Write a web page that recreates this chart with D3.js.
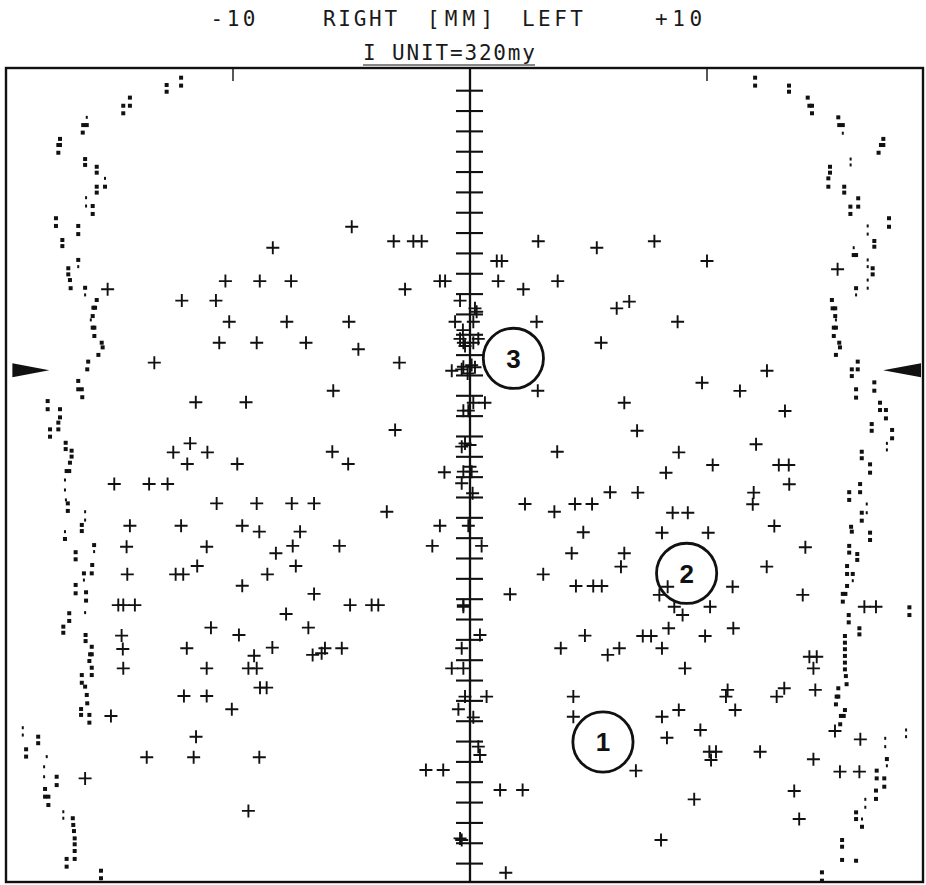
<!DOCTYPE html>
<html lang="en">
<head>
<meta charset="UTF-8" />
<title>Right / Left plot</title>
<script src="https://d3js.org/d3.v7.min.js"></script>
<style>
  body { margin: 0; background: #fff; }
  #chart svg { display: block; }
</style>
</head>
<body>
<div id="chart"></div>
<script>
// header text, centre of each word in mm
const headerLabels = ["-10", "RIGHT", "[MM]", "LEFT", "+10"];
const headerX = [-10, -4.64, -0.42, 3.48, 8.8];
const headerWidths = [45, 74, 66, 61, 47];
const unitLabel = "I UNIT=320my";
const rulerTicks = [-10, 10];
const axisTicks = d3.range(0, 39);
const pointerY = 13.75;

// circled numbers
const circleLabels = ["1", "2", "3"];
const circleX = [5.61, 9.14, 1.83];
const circleY = [32.02, 23.73, 13.16];

// crosses [mm, unit]
const crossesLeft = [
  [-8.32,7.72],[-10.32,9.36],[-8.87,9.36],[-7.55,9.36],[-15.29,9.76],[-12.16,10.32],[-10.72,10.32],[-10.16,11.36],[-7.73,11.36],
  [-4.99,6.69],[-3.22,7.40],[-2.39,7.40],[-2.04,7.40],[-2.74,9.76],[-1.27,9.36],[-1.05,9.36],[-5.11,11.36],
  [-10.58,12.39],[-9.00,12.39],[-6.92,12.39],[-13.32,13.37],[-11.57,15.32],[-9.45,15.32],[-11.81,17.34],[-12.52,17.78],[-11.08,17.78],[-11.93,18.35],[-9.82,18.35],
  [-15.01,19.34],[-13.54,19.34],[-12.76,19.34],[-10.69,20.29],[-9.00,20.29],[-7.52,20.29],[-6.58,20.29],
  [-14.35,21.39],[-12.19,21.39],[-9.61,21.39],[-8.89,21.68],[-7.17,21.68],[-14.49,22.42],[-11.11,22.42],[-7.48,22.38],[-8.19,22.74],
  [-11.51,23.37],[-7.35,23.37],[-14.46,23.78],[-12.42,23.78],[-12.10,23.78],[-8.55,23.78],[-9.61,24.34],[-6.58,24.74],
  [-14.84,25.29],[-14.63,25.29],[-14.14,25.29],
  [-4.71,12.71],[-2.98,13.37],[-5.77,14.75],[-3.16,16.68],[-5.81,17.75],[-5.14,18.35],[-1.08,18.76],[-3.51,20.70],[-1.27,21.39],[-5.51,22.38],[-1.59,22.38],
  [-5.06,25.29],[-4.15,25.29],[-3.87,25.29],
  [-7.76,25.73],[-10.93,26.40],[-9.75,26.76],[-6.82,26.40],[-14.70,26.79],[-14.65,27.45],[-11.95,27.41],[-9.11,27.78],[-8.34,27.38],[-6.64,27.74],[-6.26,27.66],[-6.12,27.41],[-5.41,27.41],
  [-14.63,28.40],[-11.11,28.40],[-9.35,28.40],[-9.00,28.40],[-8.86,29.35],[-8.58,29.35],[-12.07,29.76],[-11.11,29.76],[-10.05,30.41],[-15.15,30.74],
  [-11.56,31.76],[-13.64,32.77],[-11.66,32.77],[-8.89,32.77],[-16.24,33.81],[-9.35,35.41],[-1.86,33.40],[-1.13,33.40]
];

const crossesAxis = [
  [-0.42,10.32],[0.21,10.70],[0.28,10.87],[-0.63,11.36],[0.14,11.36],[-0.30,11.77],
  [-0.28,12.39],[0.14,12.39],[-0.42,12.20],[0.35,12.20],[-0.21,12.55],
  [-0.77,13.77],[-0.28,13.57],[0.07,13.49],[-0.35,13.70],[0.21,13.60],[-0.10,13.90],
  [0.14,15.34],[-0.28,15.73],[-0.07,15.73],
  [-0.35,17.50],[-0.21,17.34],[0,17.42],
  [-0.28,18.73],[0,18.49],[0.07,18.73],[-0.35,19.30],[0.11,19.79],[-0.07,21.39],
  [-0.28,25.29],[-0.28,25.37],[-0.35,27.41],[0.42,26.76],[-0.77,28.40],[-0.28,28.40],[-0.21,29.79],[0.70,29.79],
  [-0.49,30.41],[0.14,30.81],[0.35,32.25],[0.42,32.66],[-0.42,36.76],[-0.35,36.84]
];

const crossesRight = [
  [2.88,7.40],[5.35,7.72],[1.13,8.37],[1.34,8.37],[1.19,9.36],[2.25,9.76],[3.70,9.36],[6.19,10.70],[6.72,10.37],[2.81,11.36],[7.78,7.40],[10.00,8.37],[8.76,11.36],[15.51,8.78],
  [5.53,12.39],[2.86,14.75],[0.63,15.34],[3.68,17.75],[5.91,19.74],[2.32,20.32],[3.56,20.70],[4.43,20.32],[5.15,20.32],[4.78,21.71],[0.49,22.38],[4.29,22.74],[3.09,23.78],[4.47,24.35],[5.20,24.35],[5.56,24.35],[1.69,24.76],
  [12.53,13.77],[9.79,14.36],[11.39,14.76],[6.51,15.34],[13.29,15.75],[7.05,16.72],[12.07,17.38],[8.81,17.78],[10.24,18.40],[13.03,18.40],[13.45,18.40],[8.27,18.78],[13.47,19.35],[7.08,19.76],[11.97,19.76],[11.93,20.33],
  [8.55,20.75],[9.19,20.75],[12.84,21.40],[8.10,21.73],[10.05,21.73],[14.15,22.45],[6.51,22.74],[6.37,23.40],[12.52,23.40],[8.34,24.39],[7.99,24.79],[11.08,24.39],[14.04,24.79],[8.62,25.37],[10.13,25.37],[16.64,25.37],[17.13,25.37],
  [8.97,25.78],[8.38,26.43],[7.29,26.81],[7.64,26.81],[9.92,26.81],[11.11,26.43],[6.30,27.41],[5.81,27.74],[8.10,27.41],[9.07,28.40],[10.87,29.46],[10.80,29.79],[11.19,30.45],[8.81,30.45],[8.10,30.78],[8.31,31.81],[9.72,31.43],
  [10.10,32.50],[10.38,32.50],[10.17,32.91],[7.00,33.43],[12.24,32.50],[9.46,34.84],[8.06,36.84],
  [13.26,29.38],[12.94,29.79],[14.57,29.46],[14.32,27.83],[14.63,27.83],[14.49,28.40],[15.40,31.48],[16.47,31.89],[14.49,32.87],[15.61,33.48],[16.43,33.48],[13.68,34.43],[13.89,35.81],
  [4.85,26.79],[3.83,27.41],[4.36,29.79],[4.36,30.78],[1.27,34.38],[2.22,34.38],[1.51,38.45]
];

// printed edge dots [mm, unit, faint]
const edgeLeft = [
  [-12.19,-0.64],[-12.19,-0.25],[-12.80,-0.28],[-12.80,0.05],[-14.35,0.34],[-14.35,0.74],[-14.63,0.74],[-14.63,1.11],
  [-16.17,1.31,1],[-16.32,1.69],[-16.17,1.69],[-16.34,2.06],[-17.30,2.37],[-17.30,2.67],[-17.37,2.67],[-17.37,3.05],
  [-16.24,3.36],[-16.24,3.65],[-15.75,3.74],[-15.75,4.03],[-15.40,4.31,1],[-15.40,4.72],[-15.75,4.72],[-15.75,5.01],
  [-16.20,5.26,1],[-16.20,5.67,1],[-15.92,5.67],[-15.92,6.06],[-17.47,6.27],[-17.47,6.65],[-16.53,6.65],[-16.53,7.05],
  [-17.20,7.34],[-17.20,7.64],[-16.53,8.32],[-16.53,8.65,1],[-16.95,8.73],[-16.95,9.03],[-16.88,9.31],[-16.85,9.71],
  [-16.24,9.69],[-16.24,10.04,1],[-15.75,10.29],[-15.82,10.67],[-15.89,10.67],[-15.92,11.08],[-16.00,11.27,1],[-15.92,11.65],[-15.85,11.65],[-15.85,12.06],
  [-15.54,12.39],[-15.50,12.62],[-15.68,12.99],[-16.11,13.32],[-16.15,13.70],[-16.53,14.27],[-16.53,14.68],[-16.38,14.68],[-16.36,15.07],
  [-17.82,15.26],[-17.82,15.66],[-17.30,15.66],[-17.30,16.06],[-17.37,16.32],[-17.37,16.65],[-17.72,16.65],[-17.72,17.01],
  [-17.06,17.31],[-17.06,17.62],[-16.81,17.70],[-16.81,17.99],[-16.88,18.29],[-17.02,18.70],[-16.91,18.70],
  [-17.09,19.14,1],[-17.09,19.63,1],[-17.05,20.12,1],[-16.97,20.29],[-16.97,20.66],[-16.24,20.70,1],[-16.24,21.11,1],[-16.38,21.35],[-16.38,21.65],
  [-17.09,21.68,1],[-17.09,22.04],[-15.86,22.34],[-15.86,22.66,1],[-16.64,22.69],[-16.64,23.04],[-15.94,23.32],[-15.96,23.73],[-16.29,23.73],[-16.29,24.06,1],
  [-16.64,24.30],[-16.64,24.71],[-16.20,24.66],[-16.20,25.07],[-16.24,25.66,1],[-16.91,25.69],[-16.91,26.07],[-17.16,26.35],[-17.16,26.65],
  [-16.22,26.76],[-16.22,27.06],[-15.96,27.34],[-16.03,27.71],[-15.96,27.71],[-16.06,28.04],[-15.96,28.37],[-15.96,28.73],
  [-16.38,28.73],[-16.38,29.11],[-16.24,29.30],[-16.17,29.71],[-16.15,30.12],[-16.41,30.40],[-16.41,30.69],[-16.06,30.69],[-16.06,31.07],
  [-18.87,31.32,1],[-18.87,31.68,1],[-18.22,31.76],[-18.22,32.08],[-18.73,32.38],[-18.73,32.74],[-17.86,32.74,1],[-17.97,33.24,1],[-17.97,33.73,1],
  [-17.44,33.73],[-17.44,34.14],[-17.93,34.33],[-17.93,34.71],[-17.79,34.71],[-17.79,35.12],[-17.16,35.45,1],[-17.16,35.77,1],
  [-16.76,35.77],[-16.74,36.10],[-16.71,36.40],[-16.68,36.76],[-16.68,37.05],[-16.68,37.38],[-16.68,37.77],[-17.02,37.77],[-17.02,38.15],[-15.57,38.35],[-15.57,38.72]
];

const edgeRight = [
  [12.03,-0.64],[12.03,-0.25],[13.46,-0.25],[13.46,0.05],[14.25,0.34],[14.32,0.74],[14.43,0.74],[14.43,1.11],
  [15.54,1.31],[15.58,1.69],[15.73,1.69],[15.73,2.09,1],[17.44,2.37],[17.34,2.67],[17.44,2.67],[17.24,3.05],
  [16.06,3.36,1],[16.06,3.65,1],[15.19,3.74],[15.19,4.03],[15.12,4.31],[15.12,4.72],[15.79,4.72],[15.79,5.01],
  [16.38,5.29],[16.38,5.70],[16.05,5.70],[16.05,6.06],[17.68,6.27],[17.68,6.69],[16.78,6.65,1],[16.78,7.05,1],
  [17.06,7.39],[17.06,7.67],[16.19,7.72,1],[16.19,8.08],[16.29,8.08],[16.78,8.32,1],[16.78,8.65,1],[16.99,8.73],[16.99,9.03],
  [16.78,9.31,1],[16.78,9.71,1],[16.29,9.71],[16.29,10.04,1],
  [15.27,10.29],[15.30,10.70],[15.41,10.70],[15.41,11.08],[15.44,11.27,1],[15.35,11.65],[15.44,11.65],[15.35,12.06],
  [15.58,12.39],[15.61,12.62],[15.44,12.99],[16.36,13.32],[16.36,13.70],[16.11,13.70],[16.11,14.03],
  [17.06,14.34],[17.06,14.75],[16.29,14.68],[16.29,15.09],[17.30,15.34],[17.30,15.70],[17.55,15.70],[17.55,16.11],
  [16.95,16.39],[16.95,16.72],[17.81,16.68],[17.81,17.09],[17.59,17.34,1],[17.59,17.66,1],[16.53,17.75],[16.53,18.07],
  [16.88,18.37],[16.88,18.78],[16.46,19.34],[16.46,19.74],[16.00,19.74],[16.00,20.12],[16.74,20.32,1],[16.74,20.75,1],
  [16.53,20.75],[16.53,21.14],[16.08,21.44],[16.11,21.68],[16.88,21.73],[16.88,22.09],[16.00,22.38],[16.00,22.71],
  [16.34,22.78],[16.34,23.07],[15.91,23.37],[15.91,23.76],[16.15,23.76],[16.15,24.09,1],[15.91,24.35],[15.84,24.74],[15.73,24.74],[15.73,25.12],
  [15.98,25.78],[15.98,26.14],[16.43,26.43],[16.43,26.73],[15.82,26.81],[15.82,27.14],[15.82,27.46],[15.82,27.79],[15.82,28.12],[15.82,28.45],
  [15.86,28.78],[15.89,29.18],[15.54,29.38],[15.47,29.79],[15.54,29.79],[15.44,30.17],[15.82,30.45],[15.77,30.74],[15.65,30.74],[15.62,31.15],
  [18.54,25.40],[18.54,25.78],[18.40,31.43,1],[18.40,31.76,1],[17.52,31.84,1],[17.52,32.25,1],[17.59,32.86],[17.59,33.19,1],
  [17.16,33.43],[17.16,33.81],[17.48,33.81],[17.48,34.22],[17.13,34.41],[17.13,34.82],[16.68,34.84,1],[16.68,35.23,1],
  [16.29,35.48],[16.29,35.81],[16.54,35.81,1],[16.54,36.19],[15.70,36.84],[15.70,37.17],[15.70,37.82],[16.29,37.86],[14.85,38.43],[14.85,38.84]
];

const W = 926, H = 885;
const frame = { left: 6, top: 68, right: 923, bottom: 882 };
const ink = "#111";

const x = d3.scaleLinear().domain([-10, 10]).range([233, 707]);
const y = d3.scaleLinear().domain([0, 38]).range([90.7, 863.6]);

const svg = d3.select("#chart").append("svg")
  .attr("width", W).attr("height", H)
  .attr("viewBox", [0, 0, W, H]);

svg.append("rect").attr("width", W).attr("height", H).attr("fill", "#fff");

// frame
svg.append("rect")
  .attr("x", frame.left).attr("y", frame.top)
  .attr("width", frame.right - frame.left).attr("height", frame.bottom - frame.top)
  .attr("fill", "none").attr("stroke", ink).attr("stroke-width", 2.4);

// -10 / +10 marks under the top edge
svg.selectAll(".ruler").data(rulerTicks).join("line")
  .attr("x1", d => x(d)).attr("x2", d => x(d))
  .attr("y1", frame.top).attr("y2", frame.top + 13)
  .attr("stroke", ink).attr("stroke-width", 1.4);

// centre axis with unit ticks
svg.append("line")
  .attr("x1", x(0)).attr("x2", x(0))
  .attr("y1", frame.top).attr("y2", frame.bottom)
  .attr("stroke", ink).attr("stroke-width", 2.3);

svg.selectAll(".tick").data(axisTicks).join("line")
  .attr("x1", x(0) - 14).attr("x2", x(0) + 13)
  .attr("y1", d => y(d)).attr("y2", d => y(d))
  .attr("stroke", ink).attr("stroke-width", 2.1);

// edge dots
const dots = edgeLeft.concat(edgeRight);
svg.selectAll(".dot").data(dots).join("rect")
  .attr("x", d => x(d[0]) - (d[2] ? 1 : 2))
  .attr("y", d => y(d[1]) - (d[2] ? 1.5 : 2))
  .attr("width", d => d[2] ? 2 : 4)
  .attr("height", d => d[2] ? 3 : 4)
  .attr("fill", ink);

// crosses
const crosses = crossesLeft.concat(crossesAxis, crossesRight);
const arm = 6.5;
svg.selectAll(".cross").data(crosses).join("path")
  .attr("d", d => {
    const cx = x(d[0]), cy = y(d[1]);
    return `M${cx - arm},${cy}H${cx + arm}M${cx},${cy - arm}V${cy + arm}`;
  })
  .attr("stroke", ink).attr("stroke-width", 1.9).attr("fill", "none");

// circled numbers
const circles = circleLabels.map((t, i) => ({ t, cx: circleX[i], cy: circleY[i] }));
const r = x(1.27) - x(0);
const cg = svg.selectAll(".circ").data(circles).join("g")
  .attr("transform", d => `translate(${x(d.cx)},${y(d.cy)})`);
cg.append("circle").attr("r", r)
  .attr("fill", "none").attr("stroke", ink).attr("stroke-width", 2.8);
cg.append("text").text(d => d.t)
  .attr("text-anchor", "middle").attr("dy", "0.36em")
  .style("font-family", "'Liberation Sans', Arial, sans-serif")
  .style("font-weight", "bold").style("font-size", "26px")
  .attr("fill", ink);

// side pointers
const yp = y(pointerY);
svg.append("path")
  .attr("d", `M${x(-19.31)},${yp - 7}L${x(-17.75)},${yp}L${x(-19.31)},${yp + 7}Z`)
  .attr("fill", ink);
svg.append("path")
  .attr("d", `M${x(19.03)},${yp - 7}L${x(17.43)},${yp}L${x(19.03)},${yp + 7}Z`)
  .attr("fill", ink);

// header text
const mono = "'DejaVu Sans Mono', 'Liberation Mono', monospace";
svg.selectAll(".head").data(headerLabels).join("text")
  .text(d => d)
  .attr("x", (d, i) => x(headerX[i]) - headerWidths[i] / 2)
  .attr("y", 26)
  .attr("textLength", (d, i) => headerWidths[i])
  .attr("lengthAdjust", "spacing")
  .style("font-family", mono).style("font-size", "21px")
  .attr("fill", "#1a1a1a");

svg.append("text").text(unitLabel)
  .attr("x", 363).attr("y", 60)
  .attr("textLength", 172).attr("lengthAdjust", "spacing")
  .style("font-family", mono).style("font-size", "21px")
  .attr("fill", "#1a1a1a");
svg.append("line")
  .attr("x1", 363).attr("x2", 535).attr("y1", 65).attr("y2", 65)
  .attr("stroke", ink).attr("stroke-width", 1.2);
</script>
</body>
</html>
